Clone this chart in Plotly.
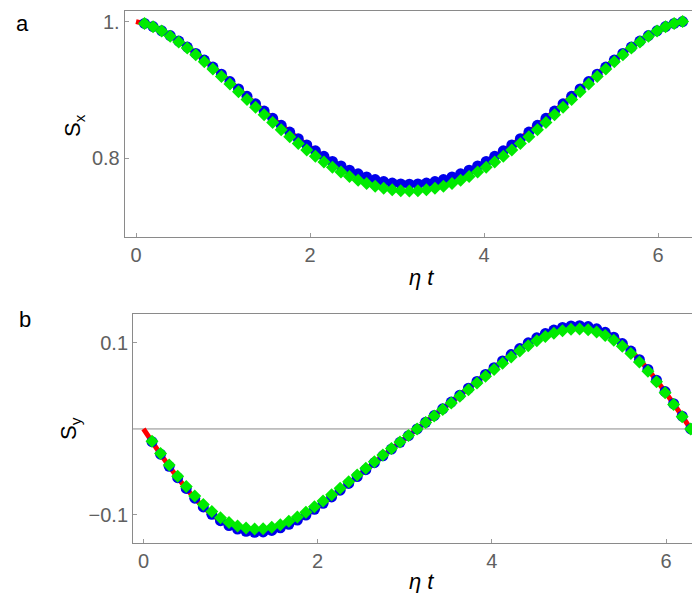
import plotly.graph_objects as go

# ---- data ----
t_marks = [0.098, 0.196, 0.295, 0.393, 0.491, 0.589, 0.687, 0.785, 0.884, 0.982, 1.080, 1.178, 1.276, 1.374, 1.473, 1.571,
           1.669, 1.767, 1.865, 1.963, 2.062, 2.160, 2.258, 2.356, 2.454, 2.553, 2.651, 2.749, 2.847, 2.945, 3.043, 3.142,
           3.240, 3.338, 3.436, 3.534, 3.632, 3.731, 3.829, 3.927, 4.025, 4.123, 4.222, 4.320, 4.418, 4.516, 4.614, 4.712,
           4.811, 4.909, 5.007, 5.105, 5.203, 5.301, 5.400, 5.498, 5.596, 5.694, 5.792, 5.890, 5.989, 6.087, 6.185, 6.283]
t_line = [0.000, 0.196, 0.393, 0.589, 0.785, 0.982, 1.178, 1.374, 1.571, 1.767, 1.963, 2.160, 2.356, 2.553, 2.749, 2.945,
          3.142, 3.338, 3.534, 3.731, 3.927, 4.123, 4.320, 4.516, 4.712, 4.909, 5.105, 5.301, 5.498, 5.694, 5.890, 6.087, 6.283]

sx_blue = [0.9974, 0.9927, 0.9866, 0.9795, 0.9715, 0.9628, 0.9535, 0.9437, 0.9335, 0.9230, 0.9123, 0.9014, 0.8906, 0.8797, 0.8690, 0.8585,
           0.8482, 0.8383, 0.8287, 0.8195, 0.8109, 0.8029, 0.7954, 0.7887, 0.7826, 0.7772, 0.7726, 0.7688, 0.7659, 0.7637, 0.7624, 0.7620,
           0.7624, 0.7637, 0.7659, 0.7688, 0.7726, 0.7772, 0.7826, 0.7887, 0.7954, 0.8029, 0.8109, 0.8195, 0.8287, 0.8383, 0.8482, 0.8585,
           0.8690, 0.8797, 0.8906, 0.9014, 0.9123, 0.9230, 0.9335, 0.9437, 0.9535, 0.9628, 0.9715, 0.9795, 0.9866, 0.9927, 0.9974, 1.0000]
sx_green = [0.9973, 0.9924, 0.9861, 0.9786, 0.9703, 0.9612, 0.9515, 0.9413, 0.9307, 0.9197, 0.9086, 0.8973, 0.8860, 0.8747, 0.8635, 0.8525,
            0.8418, 0.8315, 0.8215, 0.8120, 0.8030, 0.7946, 0.7868, 0.7798, 0.7734, 0.7678, 0.7631, 0.7591, 0.7560, 0.7538, 0.7525, 0.7520,
            0.7525, 0.7538, 0.7560, 0.7591, 0.7631, 0.7678, 0.7734, 0.7798, 0.7868, 0.7946, 0.8030, 0.8120, 0.8215, 0.8315, 0.8418, 0.8525,
            0.8635, 0.8747, 0.8860, 0.8973, 0.9086, 0.9197, 0.9307, 0.9413, 0.9515, 0.9612, 0.9703, 0.9786, 0.9861, 0.9924, 0.9973, 1.0000]
sx_red = [1.0000, 0.9927, 0.9795, 0.9628, 0.9437, 0.9230, 0.9014, 0.8797, 0.8585, 0.8383, 0.8195, 0.8029, 0.7887, 0.7772, 0.7688, 0.7637,
          0.7620, 0.7637, 0.7688, 0.7772, 0.7887, 0.8029, 0.8195, 0.8383, 0.8585, 0.8797, 0.9014, 0.9230, 0.9437, 0.9628, 0.9795, 0.9927, 1.0000]

sy_blue = [-0.0148, -0.0293, -0.0434, -0.0567, -0.0692, -0.0805, -0.0906, -0.0993, -0.1066, -0.1123, -0.1164, -0.1190, -0.1201, -0.1197, -0.1180, -0.1150,
           -0.1109, -0.1059, -0.1001, -0.0935, -0.0865, -0.0790, -0.0712, -0.0633, -0.0553, -0.0473, -0.0392, -0.0313, -0.0234, -0.0156, -0.0078, 0.0000,
           0.0078, 0.0156, 0.0234, 0.0313, 0.0392, 0.0473, 0.0553, 0.0633, 0.0712, 0.0790, 0.0865, 0.0935, 0.1001, 0.1059, 0.1109, 0.1150,
           0.1180, 0.1197, 0.1201, 0.1190, 0.1164, 0.1123, 0.1066, 0.0993, 0.0906, 0.0805, 0.0692, 0.0567, 0.0434, 0.0293, 0.0148, 0.0000]
sy_green = [-0.0143, -0.0284, -0.0420, -0.0549, -0.0670, -0.0779, -0.0877, -0.0961, -0.1031, -0.1087, -0.1127, -0.1152, -0.1162, -0.1159, -0.1142, -0.1113,
            -0.1074, -0.1025, -0.0968, -0.0905, -0.0837, -0.0765, -0.0690, -0.0613, -0.0535, -0.0457, -0.0380, -0.0303, -0.0226, -0.0151, -0.0075, 0.0000,
            0.0075, 0.0151, 0.0226, 0.0303, 0.0380, 0.0457, 0.0535, 0.0613, 0.0690, 0.0765, 0.0837, 0.0905, 0.0968, 0.1025, 0.1074, 0.1113,
            0.1142, 0.1159, 0.1162, 0.1152, 0.1127, 0.1087, 0.1031, 0.0961, 0.0877, 0.0779, 0.0670, 0.0549, 0.0420, 0.0284, 0.0143, 0.0000]
sy_red = [0.0000, -0.0293, -0.0567, -0.0805, -0.0993, -0.1123, -0.1190, -0.1197, -0.1150, -0.1059, -0.0935, -0.0790, -0.0633, -0.0473, -0.0313, -0.0156,
          0.0000, 0.0156, 0.0313, 0.0473, 0.0633, 0.0790, 0.0935, 0.1059, 0.1150, 0.1197, 0.1190, 0.1123, 0.0993, 0.0805, 0.0567, 0.0293, 0.0000]

x_ticks = [0, 2, 4, 6]
sx_ticks = [0.8, 1.0]
sx_ticktext = ["0.8", "1."]
sy_ticks = [-0.1, 0.1]
sy_ticktext = ["\u22120.1", "0.1"]

RED = "rgb(255,0,0)"
BLUE = "rgb(0,0,235)"
GREEN = "rgb(0,235,0)"
FONT = "Liberation Sans, Arial, sans-serif"

fig = go.Figure()


def add_panel(fig, xa, ya, ys_red, ys_blue, ys_green):
    fig.add_trace(go.Scatter(x=t_line, y=ys_red, mode="lines", line=dict(color=RED, width=5, shape="spline"),
                             xaxis=xa, yaxis=ya, showlegend=False, hoverinfo="skip", cliponaxis=True))
    fig.add_trace(go.Scatter(x=t_marks, y=ys_blue, mode="markers",
                             marker=dict(symbol="circle", size=11, color=BLUE, line=dict(width=0)),
                             xaxis=xa, yaxis=ya, showlegend=False, cliponaxis=False))
    fig.add_trace(go.Scatter(x=t_marks, y=ys_green, mode="markers",
                             marker=dict(symbol="diamond", size=10, color=GREEN, line=dict(width=0)),
                             xaxis=xa, yaxis=ya, showlegend=False, cliponaxis=False))


add_panel(fig, "x", "y", sx_red, sx_blue, sx_green)
add_panel(fig, "x2", "y2", sy_red, sy_blue, sy_green)

axis_common = dict(showgrid=False, showline=True, mirror=True, linecolor="#8a8a8a", linewidth=1,
                   ticks="inside", ticklen=4, tickcolor="#9a9a9a", tickwidth=1,
                   tickfont=dict(family=FONT, size=20, color="#606060"), zeroline=False)

fig.update_layout(
    width=700, height=593,
    margin=dict(l=0, r=0, t=0, b=0),
    paper_bgcolor="white", plot_bgcolor="white",
    xaxis=dict(domain=[0.1667, 0.9814], range=[-0.13, 6.425], tickvals=x_ticks, anchor="y", **axis_common),
    yaxis=dict(domain=[0.6138, 0.9949], range=[0.6847, 1.0155], tickvals=sx_ticks, ticktext=sx_ticktext,
               anchor="x", **axis_common),
    xaxis2=dict(domain=[0.1786, 0.9957], range=[-0.12, 6.447], tickvals=x_ticks, anchor="y2", **axis_common),
    yaxis2=dict(domain=[0.0978, 0.4845], range=[-0.1326, 0.134], tickvals=sy_ticks, ticktext=sy_ticktext,
                anchor="x2", **axis_common),
)

# zero axis line in panel b
fig.add_shape(type="line", xref="x2 domain", yref="y2", x0=0, x1=1, y0=0, y1=0,
              line=dict(color="#8a8a8a", width=1), layer="below")

ann_font = dict(family=FONT, size=22, color="black")
annotations = [
    dict(text="a", x=6 / 700, y=1 - 16 / 593, xanchor="left", yanchor="middle"),
    dict(text="b", x=9 / 700, y=1 - 311 / 593, xanchor="left", yanchor="middle"),
    dict(text="S<sub>x</sub>", x=66 / 700, y=1 - 118 / 593, textangle=-90, xanchor="center", yanchor="middle"),
    dict(text="S<sub>y</sub>", x=62 / 700, y=1 - 420 / 593, textangle=-90, xanchor="center", yanchor="middle"),
    dict(text="<i>\u03b7 t</i>", x=413 / 700, y=1 - 269 / 593, xanchor="center", yanchor="middle"),
    dict(text="<i>\u03b7 t</i>", x=413 / 700, y=1 - 573 / 593, xanchor="center", yanchor="middle"),
]
for a in annotations:
    fig.add_annotation(xref="paper", yref="paper", showarrow=False, font=ann_font, **a)

fig.write_html("out.html")
